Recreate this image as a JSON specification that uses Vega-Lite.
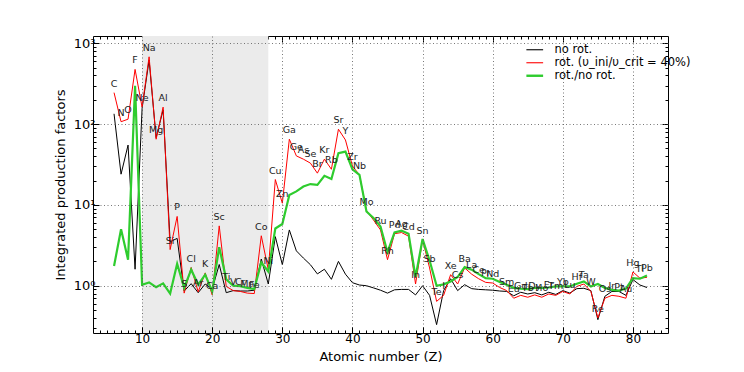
{
  "$schema": "https://vega.github.io/schema/vega-lite/v6.json",
  "width": 575,
  "height": 297,
  "autosize": {"type": "none"},
  "padding": {"left": 93, "top": 36, "right": 76, "bottom": 39},
  "background": "white",
  "config": {
    "font": "DejaVu Sans",
    "view": {"stroke": null},
    "axis": {"domainColor": "#000000", "tickColor": "#000000", "labelColor": "#000000", "titleColor": "#000000", "titleFontWeight": "normal", "labelFontSize": 12, "titleFontSize": 13}
  },
  "datasets": {
    "shade": [{"start": 10, "end": 28}],
    "elements": [
      {"Z": 6, "label": "C", "norot": 134, "rot": 245, "ratio": 1.75},
      {"Z": 7, "label": "N", "norot": 24, "rot": 107, "ratio": 5.0},
      {"Z": 8, "label": "O", "norot": 55, "rot": 115, "ratio": 2.1},
      {"Z": 9, "label": "F", "norot": 1.6, "rot": 475, "ratio": 297},
      {"Z": 10, "label": "Ne", "norot": 157, "rot": 162, "ratio": 1.03},
      {"Z": 11, "label": "Na", "norot": 620, "rot": 680, "ratio": 1.1},
      {"Z": 12, "label": "Mg", "norot": 68, "rot": 65, "ratio": 0.96},
      {"Z": 13, "label": "Al", "norot": 150, "rot": 162, "ratio": 1.07},
      {"Z": 14, "label": "Si", "norot": 3.5, "rot": 2.8, "ratio": 0.8},
      {"Z": 15, "label": "P", "norot": 3.85, "rot": 7.2, "ratio": 1.87},
      {"Z": 16, "label": "S", "norot": 0.86, "rot": 0.81, "ratio": 0.94},
      {"Z": 17, "label": "Cl", "norot": 1.06, "rot": 1.68, "ratio": 1.58},
      {"Z": 18, "label": "Ar", "norot": 0.82, "rot": 0.84, "ratio": 1.03},
      {"Z": 19, "label": "K", "norot": 1.05, "rot": 1.44, "ratio": 1.37},
      {"Z": 20, "label": "Ca", "norot": 0.91, "rot": 0.77, "ratio": 0.85},
      {"Z": 21, "label": "Sc", "norot": 1.83, "rot": 5.5, "ratio": 3.0},
      {"Z": 22, "label": "Ti", "norot": 0.82, "rot": 0.98, "ratio": 1.2},
      {"Z": 23, "label": "V", "norot": 0.87, "rot": 0.87, "ratio": 1.0},
      {"Z": 24, "label": "Cr", "norot": 0.86, "rot": 0.85, "ratio": 0.99},
      {"Z": 25, "label": "Mn", "norot": 0.86, "rot": 0.81, "ratio": 0.94},
      {"Z": 26, "label": "Fe", "norot": 0.88, "rot": 0.8, "ratio": 0.91},
      {"Z": 27, "label": "Co", "norot": 2.14, "rot": 4.15, "ratio": 1.94},
      {"Z": 28, "label": "Ni", "norot": 1.05, "rot": 1.58, "ratio": 1.5},
      {"Z": 29, "label": "Cu", "norot": 4.05, "rot": 20.6, "ratio": 5.1},
      {"Z": 30, "label": "Zn", "norot": 1.82, "rot": 10.5, "ratio": 5.8},
      {"Z": 31, "label": "Ga", "norot": 4.9, "rot": 65, "ratio": 13.3},
      {"Z": 32, "label": "Ge", "norot": 2.7, "rot": 40.4, "ratio": 14.7},
      {"Z": 33, "label": "As", "norot": 2.2, "rot": 36.8, "ratio": 16.9},
      {"Z": 34, "label": "Se", "norot": 1.82, "rot": 32.9, "ratio": 18.1},
      {"Z": 35, "label": "Br", "norot": 1.4, "rot": 24.7, "ratio": 17.7},
      {"Z": 36, "label": "Kr", "norot": 1.6, "rot": 36.8, "ratio": 22.9},
      {"Z": 37, "label": "Rb", "norot": 1.2, "rot": 27.6, "ratio": 20.9},
      {"Z": 38, "label": "Sr", "norot": 2.0, "rot": 86.4, "ratio": 43.6},
      {"Z": 39, "label": "Y", "norot": 1.39, "rot": 63.6, "ratio": 45.6},
      {"Z": 40, "label": "Zr", "norot": 1.09, "rot": 30.3, "ratio": 27.6},
      {"Z": 41, "label": "Nb", "norot": 1.02, "rot": 23.5, "ratio": 23.5},
      {"Z": 42, "label": "Mo", "norot": 1.0, "rot": 8.5, "ratio": 8.3},
      {"Z": 43, "label": "", "norot": 0.94, "rot": 6.5, "ratio": 6.9},
      {"Z": 44, "label": "Ru", "norot": 0.88, "rot": 4.9, "ratio": 5.4},
      {"Z": 45, "label": "Rh", "norot": 0.81, "rot": 2.1, "ratio": 2.6},
      {"Z": 46, "label": "Pd", "norot": 0.89, "rot": 4.4, "ratio": 4.57},
      {"Z": 47, "label": "Ag", "norot": 0.9, "rot": 4.55, "ratio": 4.8},
      {"Z": 48, "label": "Cd", "norot": 0.9, "rot": 4.1, "ratio": 4.4},
      {"Z": 49, "label": "In", "norot": 0.77, "rot": 1.05, "ratio": 1.28},
      {"Z": 50, "label": "Sn", "norot": 1.0, "rot": 3.7, "ratio": 3.78},
      {"Z": 51, "label": "Sb", "norot": 0.76, "rot": 1.66, "ratio": 2.05},
      {"Z": 52, "label": "Te", "norot": 0.33, "rot": 0.64, "ratio": 1.0},
      {"Z": 53, "label": "I", "norot": 0.87, "rot": 0.76, "ratio": 1.04},
      {"Z": 54, "label": "Xe", "norot": 1.22, "rot": 1.37, "ratio": 1.13},
      {"Z": 55, "label": "Cs", "norot": 0.87, "rot": 1.05, "ratio": 1.28},
      {"Z": 56, "label": "Ba", "norot": 1.03, "rot": 1.66, "ratio": 1.7},
      {"Z": 57, "label": "La", "norot": 0.92, "rot": 1.39, "ratio": 1.58},
      {"Z": 58, "label": "Ce", "norot": 0.9, "rot": 1.22, "ratio": 1.39},
      {"Z": 59, "label": "Pr", "norot": 0.89, "rot": 1.1, "ratio": 1.24},
      {"Z": 60, "label": "Nd", "norot": 0.88, "rot": 1.08, "ratio": 1.22},
      {"Z": 61, "label": "", "norot": 0.86, "rot": 0.95, "ratio": 1.11},
      {"Z": 62, "label": "Sm", "norot": 0.85, "rot": 0.87, "ratio": 1.03},
      {"Z": 63, "label": "Eu", "norot": 0.75, "rot": 0.7, "ratio": 0.94},
      {"Z": 64, "label": "Gd", "norot": 0.83, "rot": 0.76, "ratio": 0.92},
      {"Z": 65, "label": "Tb", "norot": 0.79, "rot": 0.72, "ratio": 0.91},
      {"Z": 66, "label": "Dy", "norot": 0.82, "rot": 0.77, "ratio": 0.94},
      {"Z": 67, "label": "Ho", "norot": 0.77, "rot": 0.72, "ratio": 0.94},
      {"Z": 68, "label": "Er", "norot": 0.83, "rot": 0.79, "ratio": 0.95},
      {"Z": 69, "label": "Tm", "norot": 0.78, "rot": 0.76, "ratio": 0.98},
      {"Z": 70, "label": "Yb", "norot": 0.87, "rot": 0.85, "ratio": 0.98},
      {"Z": 71, "label": "Lu", "norot": 0.81, "rot": 0.79, "ratio": 0.98},
      {"Z": 72, "label": "Hf", "norot": 0.92, "rot": 0.98, "ratio": 1.06},
      {"Z": 73, "label": "Ta", "norot": 0.93, "rot": 1.05, "ratio": 1.13},
      {"Z": 74, "label": "W", "norot": 0.87, "rot": 0.85, "ratio": 0.98},
      {"Z": 75, "label": "Re", "norot": 0.38, "rot": 0.4, "ratio": 1.05},
      {"Z": 76, "label": "Os", "norot": 0.74, "rot": 0.7, "ratio": 0.94},
      {"Z": 77, "label": "Ir", "norot": 0.85, "rot": 0.76, "ratio": 0.89},
      {"Z": 78, "label": "Pt", "norot": 0.85, "rot": 0.74, "ratio": 0.87},
      {"Z": 79, "label": "Au", "norot": 0.76, "rot": 0.7, "ratio": 0.92},
      {"Z": 80, "label": "Hg", "norot": 1.19, "rot": 1.48, "ratio": 1.24},
      {"Z": 81, "label": "Tl", "norot": 1.02, "rot": 1.24, "ratio": 1.22},
      {"Z": 82, "label": "Pb", "norot": 0.95, "rot": 1.27, "ratio": 1.34}
    ]
  },
  "data": {"name": "elements"},
  "layer": [
    {
      "data": {"name": "shade"},
      "mark": {"type": "rect", "color": "#ebebeb"},
      "encoding": {
        "x": {"field": "start", "type": "quantitative", "scale": {"domain": [3, 85], "nice": false, "zero": false}, "axis": null},
        "x2": {"field": "end"}
      }
    },
    {
      "transform": [{"fold": ["norot", "rot", "ratio"], "as": ["series", "value"]}],
      "mark": {"type": "line", "clip": true},
      "encoding": {
        "x": {
          "field": "Z", "type": "quantitative",
          "scale": {"domain": [3, 85], "nice": false, "zero": false},
          "axis": {
            "values": [4,5,6,7,8,9,10,11,12,13,14,15,16,17,18,19,20,21,22,23,24,25,26,27,28,29,30,31,32,33,34,35,36,37,38,39,40,41,42,43,44,45,46,47,48,49,50,51,52,53,54,55,56,57,58,59,60,61,62,63,64,65,66,67,68,69,70,71,72,73,74,75,76,77,78,79,80,81,82,83,84],
            "tickSize": {"condition": {"test": "datum.value % 10 === 0", "value": -6}, "value": -3},
            "labelExpr": "datum.value % 10 === 0 ? datum.label : ''",
            "labelOverlap": false, "labelFlush": false, "labelBound": false,
            "labelPadding": 6,
            "grid": true,
            "gridOpacity": {"condition": {"test": "datum.value % 10 === 0", "value": 1}, "value": 0},
            "gridDash": [1, 2.5], "gridColor": "#555555", "gridWidth": 0.8,
            "title": "Atomic number (Z)", "titlePadding": 3,
            "zindex": 1
          }
        },
        "y": {
          "field": "value", "type": "quantitative",
          "scale": {"type": "log", "domain": [0.26, 1230], "nice": false},
          "axis": {
            "values": [0.3,0.4,0.5,0.6,0.7,0.8,0.9,1,2,3,4,5,6,7,8,9,10,20,30,40,50,60,70,80,90,100,200,300,400,500,600,700,800,900,1000],
            "tickSize": {"condition": {"test": "datum.value === 1 || datum.value === 10 || datum.value === 100 || datum.value === 1000", "value": -6}, "value": -3},
            "labelExpr": "datum.value === 1 ? '10⁰' : datum.value === 10 ? '10¹' : datum.value === 100 ? '10²' : datum.value === 1000 ? '10³' : ''",
            "labelOverlap": false, "labelFlush": false, "labelBound": false,
            "labelPadding": 4, "labelFontSize": 13,
            "grid": true,
            "gridOpacity": {"condition": {"test": "datum.value === 1 || datum.value === 10 || datum.value === 100 || datum.value === 1000", "value": 1}, "value": 0},
            "gridDash": [1, 2.5], "gridColor": "#555555", "gridWidth": 0.8,
            "title": "Integrated production factors", "titlePadding": 6,
            "zindex": 1
          }
        },
        "color": {
          "field": "series", "type": "nominal",
          "scale": {"domain": ["norot", "rot", "ratio"], "range": ["#000000", "#ff0000", "#2ecc2e"]},
          "legend": {
            "title": null, "orient": "none", "legendX": 436, "legendY": 8,
            "symbolType": "stroke", "symbolSize": 280, "labelFontSize": 11.5, "labelOffset": 14, "rowPadding": 0,
            "labelExpr": "datum.label === 'norot' ? 'no rot.' : datum.label === 'rot' ? 'rot. (υ_ini/υ_crit = 40%)' : 'rot./no rot.'",
            "symbolStrokeWidth": 1.2,
            "encode": {"symbols": {"update": {"strokeWidth": {"signal": "datum.value === 'ratio' ? 2.4 : 1.1"}}}}
          }
        },
        "strokeWidth": {"condition": {"test": "datum.series === 'ratio'", "value": 2.2}, "value": 1}
      }
    },
    {
      "transform": [{"filter": "datum.label !== ''"}],
      "mark": {"type": "text", "dy": -9, "fontSize": 9.5, "color": "#222222", "baseline": "middle"},
      "encoding": {
        "x": {
          "field": "Z", "type": "quantitative",
          "axis": {
            "orient": "top", "title": null, "labels": false, "grid": false,
            "values": [4,5,6,7,8,9,10,11,12,13,14,15,16,17,18,19,20,21,22,23,24,25,26,27,28,29,30,31,32,33,34,35,36,37,38,39,40,41,42,43,44,45,46,47,48,49,50,51,52,53,54,55,56,57,58,59,60,61,62,63,64,65,66,67,68,69,70,71,72,73,74,75,76,77,78,79,80,81,82,83,84],
            "tickSize": {"condition": {"test": "datum.value % 10 === 0", "value": -6}, "value": -3}
          }
        },
        "y": {
          "field": "rot", "type": "quantitative",
          "axis": {
            "orient": "right", "title": null, "labels": false, "grid": false,
            "values": [0.3,0.4,0.5,0.6,0.7,0.8,0.9,1,2,3,4,5,6,7,8,9,10,20,30,40,50,60,70,80,90,100,200,300,400,500,600,700,800,900,1000],
            "tickSize": {"condition": {"test": "datum.value === 1 || datum.value === 10 || datum.value === 100 || datum.value === 1000", "value": -6}, "value": -3}
          }
        },
        "text": {"field": "label"}
      }
    }
  ],
  "resolve": {"axis": {"x": "independent", "y": "independent"}}
}
